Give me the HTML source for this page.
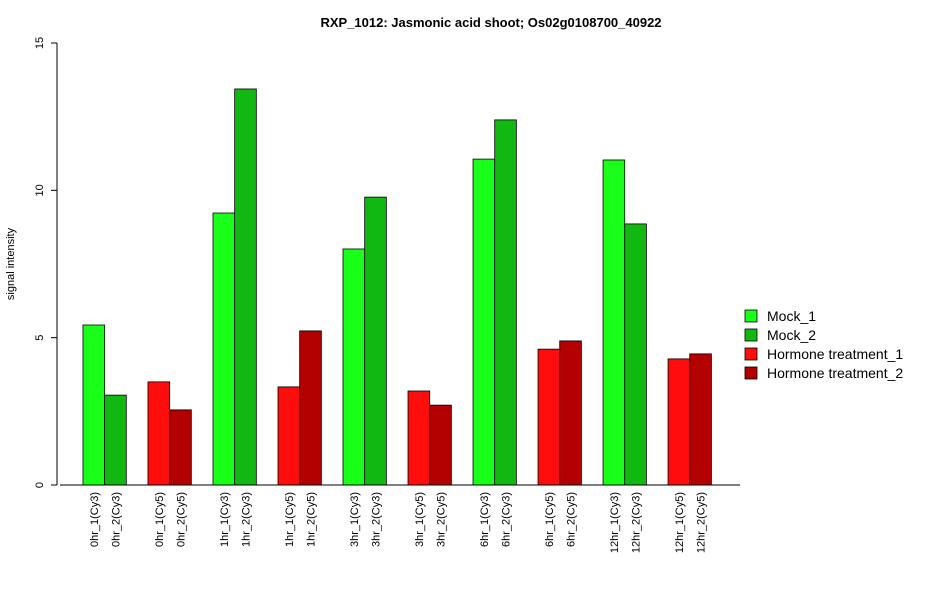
<!DOCTYPE html>
<html><head><meta charset="utf-8"><style>
body{margin:0;background:#fff;font-family:"Liberation Sans",Arial,sans-serif}
svg text{font-family:"Liberation Sans",Arial,sans-serif}
</style></head><body>
<svg id="chart" width="950" height="600" xmlns="http://www.w3.org/2000/svg">
<text x="491" y="27" text-anchor="middle" font-size="13" font-weight="bold">RXP_1012: Jasmonic acid shoot; Os02g0108700_40922</text>
<text transform="translate(14,264) rotate(-90)" text-anchor="middle" font-size="11">signal intensity</text>
<g id="yaxis"></g>
<g id="bars"></g>
<g id="xlabels"></g>
<line x1="60" y1="485" x2="740" y2="485" stroke="#000"/>
<g id="legend"></g>
</svg>
<script>
const categories=["0hr_1(Cy3)","0hr_2(Cy3)","0hr_1(Cy5)","0hr_2(Cy5)","1hr_1(Cy3)","1hr_2(Cy3)","1hr_1(Cy5)","1hr_2(Cy5)","3hr_1(Cy3)","3hr_2(Cy3)","3hr_1(Cy5)","3hr_2(Cy5)","6hr_1(Cy3)","6hr_2(Cy3)","6hr_1(Cy5)","6hr_2(Cy5)","12hr_1(Cy3)","12hr_2(Cy3)","12hr_1(Cy5)","12hr_2(Cy5)"];
const values=[5.43,3.05,3.5,2.55,9.23,13.44,3.33,5.23,8.01,9.77,3.19,2.71,11.06,12.39,4.61,4.89,11.03,8.86,4.28,4.45];
const seriesIndex=[0,1,2,3,0,1,2,3,0,1,2,3,0,1,2,3,0,1,2,3];
const seriesNames=["Mock_1","Mock_2","Hormone treatment_1","Hormone treatment_2"];
const seriesColors=["#1aff1a","#12b812","#ff0d0d","#b30000"];
const yTicks=[0,5,10,15];
const NS="http://www.w3.org/2000/svg";
const y0=485,yTop=43,yMax=15,u=21.67,x0=61.3;
const yS=v=>y0-(v/yMax)*(y0-yTop);
const barX=i=>x0+u*(Math.floor(i/2)*3+1+(i%2));
function mk(t,a,p){const e=document.createElementNS(NS,t);for(const k in a)e.setAttribute(k,a[k]);p.appendChild(e);return e;}
const ya=document.getElementById('yaxis');
mk('line',{x1:57,x2:57,y1:yS(0),y2:yS(15),stroke:'#000'},ya);
yTicks.forEach(t=>{
 const l=mk('line',{x1:51,x2:57,y1:yS(t),y2:yS(t),stroke:'#000'},ya);
 
 
 const tx=mk('text',{transform:`translate(43,${yS(t)}) rotate(-90)`,'text-anchor':'middle','font-size':11},ya);
 
 
 tx.textContent=t;
});
const bg=document.getElementById('bars'),xg=document.getElementById('xlabels');
values.forEach((v,i)=>{
 const r=mk('rect',{x:barX(i),y:yS(v),width:u,height:y0-yS(v),fill:seriesColors[seriesIndex[i]],stroke:'#000','stroke-width':0.8},bg);
 
 
 const cx=barX(i)+u/2+4;
 const t=mk('text',{transform:`translate(${cx},492) rotate(-90)`,'text-anchor':'end','font-size':11},xg);
 
 
 t.textContent=categories[i];
});
const lg=document.getElementById('legend');
seriesNames.forEach((n,i)=>{
 const y=316+i*19;
 const r=mk('rect',{x:745,y:y-6,width:12,height:12,fill:seriesColors[i],stroke:'#000','stroke-width':0.8},lg);
 
 
 const t=mk('text',{x:767,y:y+5,'font-size':14},lg);
 
 
 t.textContent=n;
});
</script>
</body></html>
